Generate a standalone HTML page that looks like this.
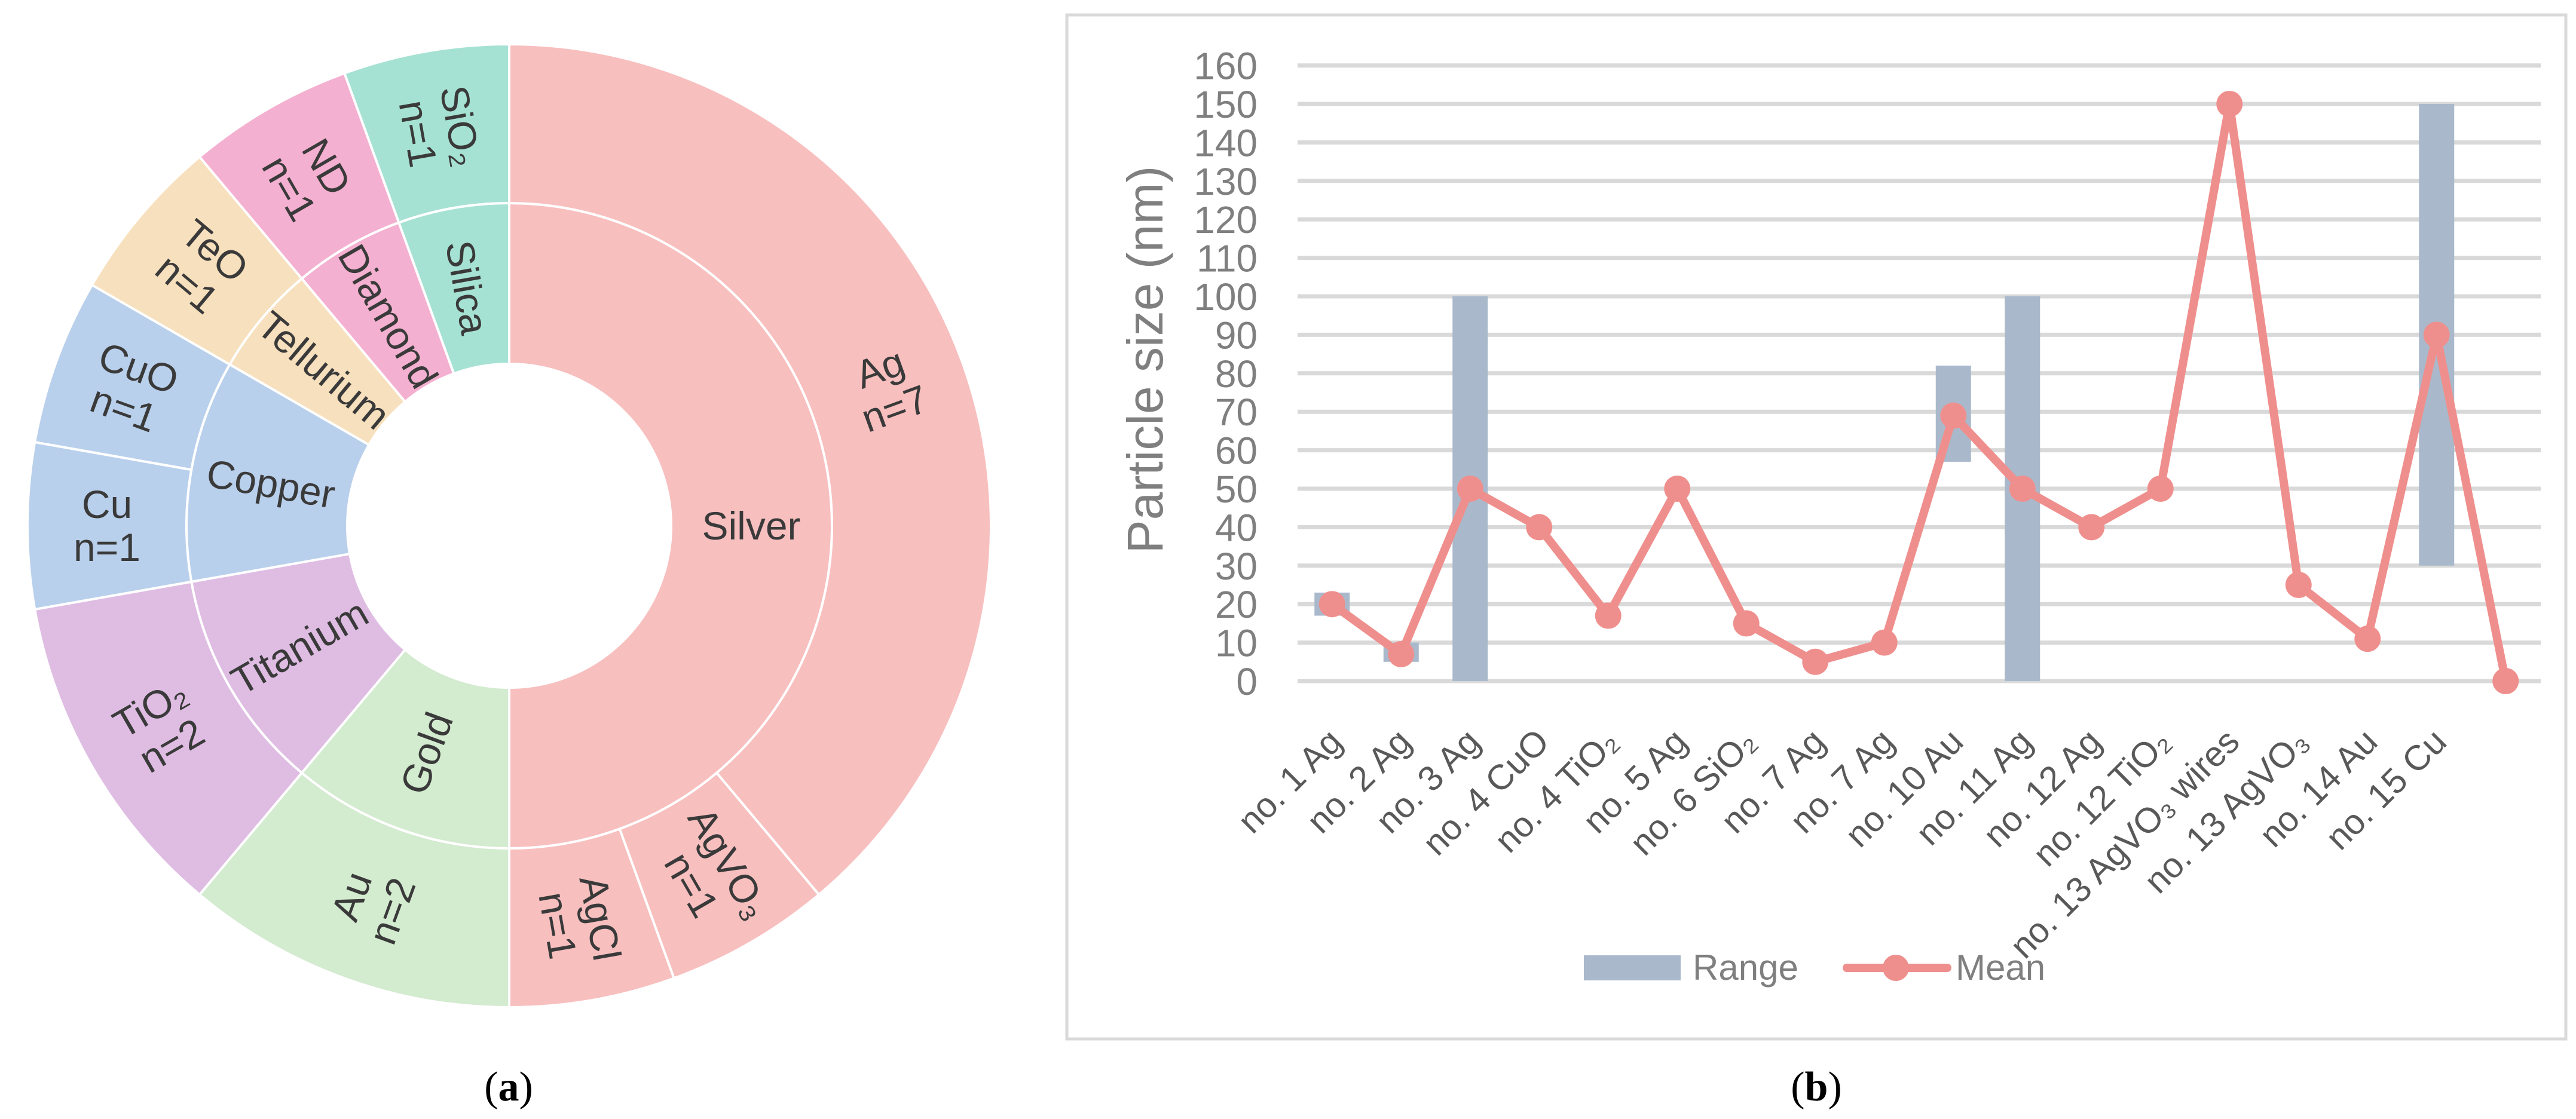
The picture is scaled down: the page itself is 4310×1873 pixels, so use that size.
<!DOCTYPE html>
<html><head><meta charset="utf-8"><style>
html,body{margin:0;padding:0;background:#fff;}
svg{display:block;}
</style></head><body>
<svg id="fig" width="4310" height="1873" viewBox="0 0 4310 1873" xmlns="http://www.w3.org/2000/svg">
<g id="donut"></g>
<text x="851" y="1842" text-anchor="middle" font-family="Liberation Serif, serif" font-size="70" fill="#000">(<tspan font-weight="bold">a</tspan>)</text>
<rect x="1785" y="25" width="2508" height="1714" fill="#fff" stroke="#d9d9d9" stroke-width="5"/>
<g id="chart"></g>
<text x="3039" y="1842" text-anchor="middle" font-family="Liberation Serif, serif" font-size="70" fill="#000">(<tspan font-weight="bold">b</tspan>)</text>
</svg>
<script>
// ---------- Sunburst data ----------
const groupNames = ["Silver","Gold","Titanium","Copper","Tellurium","Diamond","Silica"];
const groupCounts = [9,2,2,2,1,1,1];
const groupColors = ["#f8bfbf","#d3ebcf","#dfbde3","#b9d0ec","#f7e0bd","#f4b0d0","#a6e2d3"];
const leafNames = ["Ag","AgVO₃","AgCl","Au","TiO₂","Cu","CuO","TeO","ND","SiO₂"];
const leafCounts = [7,1,1,2,2,1,1,1,1,1];
const leafGroup = [0,0,0,1,2,3,3,4,5,6];

const SVGNS = "http://www.w3.org/2000/svg";
const CX = 852, CY = 880, R0 = 271, R1 = 540, R2 = 806;
const donut = document.getElementById('donut');
const total = leafCounts.reduce((a,b)=>a+b,0);
function pt(r, deg){ const a = deg*Math.PI/180; return [CX + r*Math.sin(a), CY - r*Math.cos(a)]; }
function arcPath(r0, r1, a0, a1){
  const large = (a1-a0) > 180 ? 1 : 0;
  const p0 = pt(r1,a0), p1 = pt(r1,a1), p2 = pt(r0,a1), p3 = pt(r0,a0);
  return `M${p0[0]},${p0[1]} A${r1},${r1} 0 ${large} 1 ${p1[0]},${p1[1]} L${p2[0]},${p2[1]} A${r0},${r0} 0 ${large} 0 ${p3[0]},${p3[1]} Z`;
}
function addLabel(lines, r, mid, name){
  const p = pt(r, mid);
  const rot = mid < 180 ? mid - 90 : mid + 90;
  const t = document.createElementNS(SVGNS,'text');
  
  
  t.setAttribute('transform', `translate(${p[0]},${p[1]}) rotate(${rot})`);
  t.setAttribute('text-anchor','middle');
  t.setAttribute('font-family','Liberation Sans, DejaVu Sans, sans-serif');
  t.setAttribute('font-size','66');
  t.setAttribute('fill','#3a3a3a');
  const lh = 72;
  lines.forEach((ln,i)=>{
    const ts = document.createElementNS(SVGNS,'tspan');
    ts.setAttribute('x','0');
    ts.setAttribute('y', String((i - (lines.length-1)/2)*lh + 23));
    ts.textContent = ln;
    t.appendChild(ts);
  });
  donut.appendChild(t);
}
let acc = 0;
groupCounts.forEach((c,i)=>{
  const a0 = acc/total*360, a1 = (acc+c)/total*360;
  const p = document.createElementNS(SVGNS,'path');
  
  
  p.setAttribute('d', arcPath(R0,R1,a0,a1));
  p.setAttribute('fill', groupColors[i]);
  p.setAttribute('stroke','#fff');
  p.setAttribute('stroke-width','4');
  donut.appendChild(p);
  acc += c;
});
acc = 0;
leafCounts.forEach((c,i)=>{
  const a0 = acc/total*360, a1 = (acc+c)/total*360;
  const p = document.createElementNS(SVGNS,'path');
  
  
  p.setAttribute('d', arcPath(R1,R2,a0,a1));
  p.setAttribute('fill', groupColors[leafGroup[i]]);
  p.setAttribute('stroke','#fff');
  p.setAttribute('stroke-width','4');
  donut.appendChild(p);
  acc += c;
});
acc = 0;
groupCounts.forEach((c,i)=>{
  const mid = (acc + c/2)/total*360;
  addLabel([groupNames[i]], 405, mid, 'inner-label');
  acc += c;
});
acc = 0;
leafCounts.forEach((c,i)=>{
  const mid = (acc + c/2)/total*360;
  addLabel([leafNames[i], 'n=' + c], 673, mid, 'outer-label');
  acc += c;
});

// ---------- Chart data ----------
const categories = ["no. 1 Ag","no. 2 Ag","no. 3 Ag","no. 4 CuO","no. 4 TiO₂","no. 5 Ag","no. 6 SiO₂","no. 7 Ag","no. 7 Ag","no. 10 Au","no. 11 Ag","no. 12 Ag","no. 12 TiO₂","no. 13 AgVO₃ wires","no. 13 AgVO₃","no. 14 Au","no. 15 Cu",""];
const rangeLow  = [17,5,0,null,null,null,null,null,null,57,0,null,null,null,null,null,30,null];
const rangeHigh = [23,10,100,null,null,null,null,null,null,82,100,null,null,null,null,null,150,null];
const meanValues = [20,7,50,40,17,50,15,5,10,69,50,40,50,150,25,11,90,0];
const yTicks = [0,10,20,30,40,50,60,70,80,90,100,110,120,130,140,150,160];

const chart = document.getElementById('chart');
const PL = 2171, BAND = 115.5, Y0 = 1140, YPX = 6.44, GRID_END = 4251;
const xC = i => PL + BAND*(i+0.5);
const yS = v => Y0 - v*YPX;
function el(tag, attrs, name, inter){
  const e = document.createElementNS(SVGNS, tag);
  for (const k in attrs) e.setAttribute(k, attrs[k]);
  
  
  chart.appendChild(e);
  return e;
}
yTicks.forEach(v=>{
  el('line',{x1:PL,x2:GRID_END,y1:yS(v),y2:yS(v),stroke:'#d9d9d9','stroke-width':7},'gridline','false');
  const t = el('text',{x:2104,y:yS(v)+23,'text-anchor':'end','font-family':'Liberation Sans, sans-serif','font-size':64,fill:'#7f7f7f'},'y-tick-label','false');
  t.textContent = v;
});
const yt = el('text',{transform:'translate(1945,602) rotate(-90)','text-anchor':'middle','font-family':'Liberation Sans, sans-serif','font-size':84,fill:'#7f7f7f'},'y-axis-title','false');
yt.textContent = 'Particle size (nm)';
rangeLow.forEach((lo,i)=>{
  if (lo === null) return;
  const hi = rangeHigh[i];
  el('rect',{x:xC(i)-29.5,y:yS(hi),width:59,height:yS(lo)-yS(hi),fill:'#a9b9cb'},'range-bar','true');
});
const pts = meanValues.map((v,i)=>`${xC(i)},${yS(v)}`).join(' ');
el('polyline',{points:pts,fill:'none',stroke:'#ef8f8d','stroke-width':14,'stroke-linejoin':'round'},'mean-line','true');
meanValues.forEach((v,i)=>{
  el('circle',{cx:xC(i),cy:yS(v),r:22,fill:'#ef8f8d'},'mean-point','true');
});
categories.forEach((c,i)=>{
  if (!c) return;
  const t = el('text',{transform:`translate(${xC(i)+20},${1245}) rotate(-45)`,'text-anchor':'end','font-family':'Liberation Sans, DejaVu Sans, sans-serif','font-size':59,fill:'#595959'},'x-tick-label','false');
  t.textContent = c;
});
// legend
el('rect',{x:2650,y:1599,width:162,height:42,fill:'#a9b9cb'},'legend-range-swatch','false');
const lt1 = el('text',{x:2832,y:1640,'font-family':'Liberation Sans, sans-serif','font-size':60,fill:'#7f7f7f'},'legend-range-label','false');
lt1.textContent = 'Range';
el('line',{x1:3090,x2:3258,y1:1620,y2:1620,stroke:'#ef8f8d','stroke-width':14,'stroke-linecap':'round'},'legend-mean-line','false');
el('circle',{cx:3172,cy:1620,r:22,fill:'#ef8f8d'},'legend-mean-marker','false');
const lt2 = el('text',{x:3272,y:1640,'font-family':'Liberation Sans, sans-serif','font-size':60,fill:'#7f7f7f'},'legend-mean-label','false');
lt2.textContent = 'Mean';
</script>
</body></html>
